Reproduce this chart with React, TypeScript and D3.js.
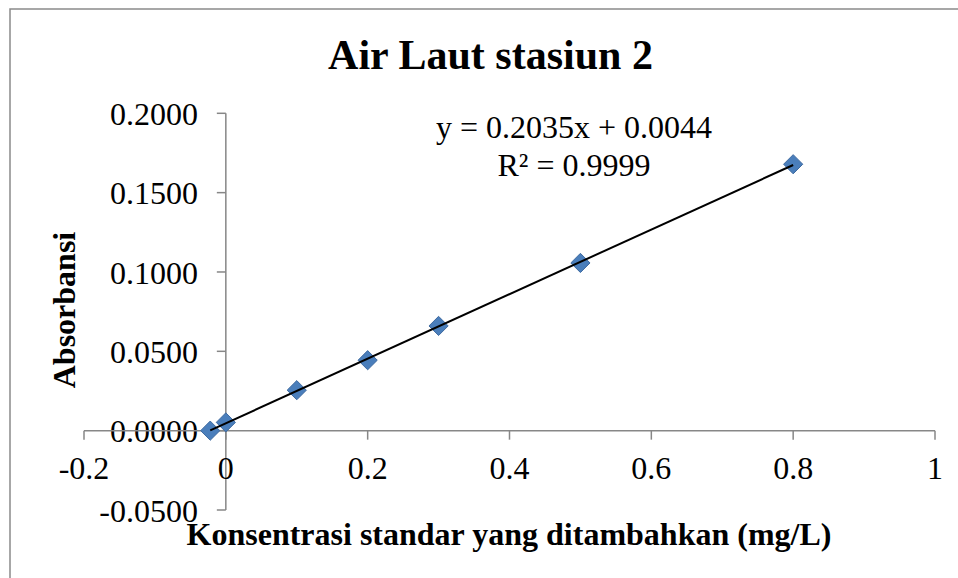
import React from "react";
import * as d3 from "d3";

const concentrations = [-0.022, 0, 0.1, 0.2, 0.3, 0.5, 0.8];
const absorbances = [0, 0.0052, 0.0255, 0.0444, 0.066, 0.1057, 0.1679];
const xTicks = [-0.2, 0, 0.2, 0.4, 0.6, 0.8, 1];
const yTicks = [-0.05, 0, 0.05, 0.1, 0.15, 0.2];
const titleText = "Air Laut stasiun 2";
const xTitle = "Konsentrasi standar yang ditambahkan (mg/L)";
const yTitle = "Absorbansi";
const equationLines = ["y = 0.2035x + 0.0044", "R² = 0.9999"];

const W = 958;
const H = 578;
const FONT = "'Liberation Serif', 'Times New Roman', serif";

export default function App() {
  const x = d3.scaleLinear().domain([-0.2, 1]).range([84, 935]);
  const y = d3.scaleLinear().domain([-0.05, 0.2]).range([510, 113.3]);

  const n = concentrations.length;
  const mx = d3.mean(concentrations)!;
  const my = d3.mean(absorbances)!;
  let sxy = 0, sxx = 0;
  for (let i = 0; i < n; i++) {
    sxy += (concentrations[i] - mx) * (absorbances[i] - my);
    sxx += (concentrations[i] - mx) ** 2;
  }
  const slope = sxy / sxx;
  const intercept = my - slope * mx;
  const [x0, x1] = d3.extent(concentrations) as [number, number];
  const line = d3.line<number>().x((d) => x(d)).y((d) => y(slope * d + intercept));

  const axisColor = "#878787";
  const diamond = d3.symbol().type(d3.symbolDiamond2).size(235)();

  return (
    <svg
      width={W}
      height={H}
      style={{ position: "absolute", left: 0, top: 0, background: "#fff" }}
      fontFamily={FONT}
    >
      <rect x={0} y={0} width={W} height={H} fill="#fff" />
      <rect x={10} y={9} width={980} height={600} fill="none" stroke="#8a8a8a" strokeWidth={1.5} />

      <text x={490.5} y={69} textAnchor="middle" fontSize={42} fontWeight="bold" fill="#000">
        {titleText}
      </text>

      {/* y axis */}
      <line x1={x(0)} x2={x(0)} y1={y(0.2)} y2={y(-0.05)} stroke={axisColor} strokeWidth={1.5} />
      {yTicks.map((t) => (
        <g key={"y" + t}>
          <line x1={x(0) - 9} x2={x(0)} y1={y(t)} y2={y(t)} stroke={axisColor} strokeWidth={1.5} />
          <text x={198} y={y(t)} dy="0.36em" textAnchor="end" fontSize={32} fill="#000">
            {d3.format(".4f")(t).replace("−", "-")}
          </text>
        </g>
      ))}

      {/* x axis */}
      <line x1={x(-0.2)} x2={x(1)} y1={y(0)} y2={y(0)} stroke={axisColor} strokeWidth={1.5} />
      {xTicks.map((t) => (
        <g key={"x" + t}>
          <line x1={x(t)} x2={x(t)} y1={y(0)} y2={y(0) + 9} stroke={axisColor} strokeWidth={1.5} />
          <text x={x(t)} y={y(0) + 48} textAnchor="middle" fontSize={32} fill="#000">
            {String(t)}
          </text>
        </g>
      ))}

      {/* markers */}
      {concentrations.map((c, i) => (
        <path
          key={"p" + i}
          d={diamond as string}
          transform={`translate(${x(c)},${y(absorbances[i])})`}
          fill="#4a7ebb"
          stroke="#3e6aa0"
          strokeWidth={1}
        />
      ))}

      {/* trendline */}
      <path d={line([x0, x1]) as string} stroke="#000" strokeWidth={2} fill="none" />

      {equationLines.map((s, i) => (
        <text key={"e" + i} x={574} y={138 + i * 38} textAnchor="middle" fontSize={32} fill="#000">
          {s}
        </text>
      ))}

      <text x={509} y={545} textAnchor="middle" fontSize={32} fontWeight="bold" fill="#000">
        {xTitle}
      </text>
      <text
        transform={`translate(75,${310}) rotate(-90)`}
        textAnchor="middle"
        fontSize={32}
        fontWeight="bold"
        fill="#000"
      >
        {yTitle}
      </text>
    </svg>
  );
}
